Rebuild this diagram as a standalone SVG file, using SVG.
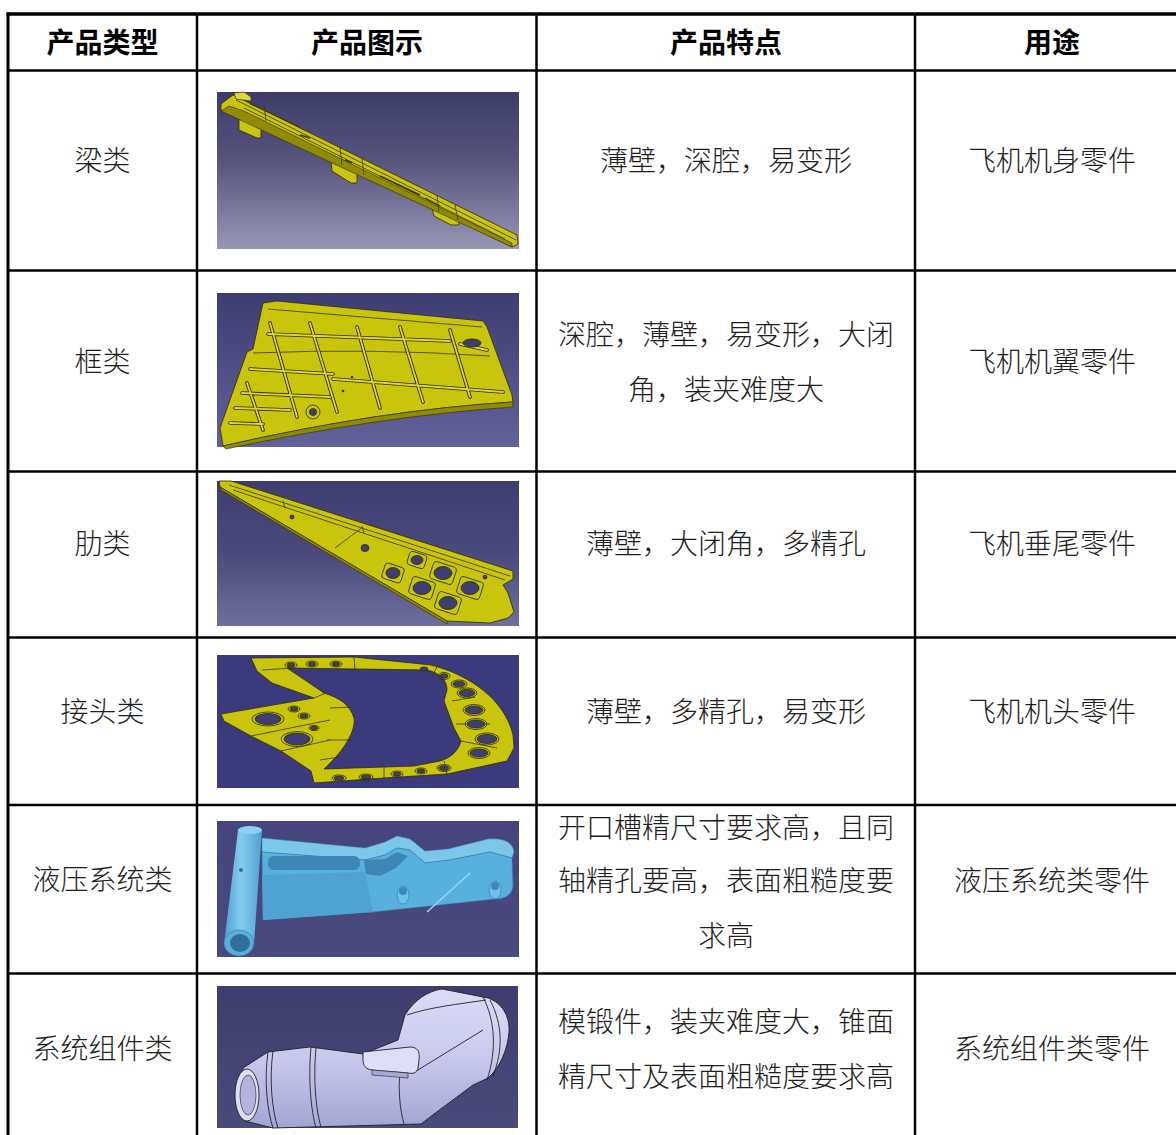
<svg xmlns="http://www.w3.org/2000/svg" width="1176" height="1135" viewBox="0 0 1176 1135">
<defs>
<linearGradient id="bg1" x1="0" y1="0" x2="0" y2="1"><stop offset="0" stop-color="#3d3b6a"/><stop offset="0.45" stop-color="#58567f"/><stop offset="1" stop-color="#9896b5"/></linearGradient>
<linearGradient id="bg2" x1="0" y1="0" x2="0" y2="1"><stop offset="0" stop-color="#3e3d72"/><stop offset="1" stop-color="#62619a"/></linearGradient>
<linearGradient id="bg3" x1="0" y1="0" x2="0" y2="1"><stop offset="0" stop-color="#3e3d70"/><stop offset="0.5" stop-color="#4a4a7c"/><stop offset="1" stop-color="#6e6e9f"/></linearGradient>
<linearGradient id="bg5" x1="0" y1="0" x2="0" y2="1"><stop offset="0" stop-color="#45447c"/><stop offset="1" stop-color="#4a4a7e"/></linearGradient>
<linearGradient id="bg6" x1="0" y1="0" x2="0" y2="1"><stop offset="0" stop-color="#3e3d6e"/><stop offset="1" stop-color="#4b4a7c"/></linearGradient>
<linearGradient id="tube" x1="0" y1="0" x2="1" y2="0"><stop offset="0" stop-color="#4a9fd0"/><stop offset="0.45" stop-color="#86cdf0"/><stop offset="1" stop-color="#4f9fcf"/></linearGradient>
<linearGradient id="lav" x1="0" y1="0" x2="0" y2="1"><stop offset="0" stop-color="#dcdcf6"/><stop offset="0.5" stop-color="#c8c8ee"/><stop offset="1" stop-color="#a4a4d4"/></linearGradient>
</defs>
<style>
.h{font-family:"Noto Sans CJK SC","Noto Sans CJK JP",sans-serif;font-size:28px;font-weight:700;fill:#000;text-anchor:middle}
.t{font-family:"Noto Sans CJK SC","Noto Sans CJK JP",sans-serif;font-size:28px;font-weight:300;fill:#1e1e1e;text-anchor:middle}
.y{fill:#c9c40c;stroke:#2f2d00;stroke-width:0.8;stroke-linejoin:round}
.yd{fill:#8f8b04;stroke:#2f2d00;stroke-width:0.6}
.yl{fill:#dcd73a;stroke:#2f2d00;stroke-width:0.6}
.ln{fill:none;stroke:#3a3800;stroke-width:0.8}
.ro{fill:none;stroke:#2f2d00;stroke-width:3.6;stroke-linecap:round}
.ri{fill:none;stroke:#dbd638;stroke-width:1.8;stroke-linecap:round}
.hr{fill:#3f3e74;stroke:#2f2d00;stroke-width:0.8}
.rg{fill:none;stroke:#2f2d00;stroke-width:0.8}
.bl{fill:#58b0de;stroke:#2f78a4;stroke-width:0.5}
.k{fill:none;stroke:#222;stroke-width:0.9}
#grid line{stroke:#000;stroke-width:2.5}
</style>
<rect width="1176" height="1135" fill="#fff"/>

<g id="header">
<text class="h" x="102.5" y="53">产品类型</text>
<text class="h" x="367" y="53">产品图示</text>
<text class="h" x="726" y="53">产品特点</text>
<text class="h" x="1052" y="53">用途</text>
</g>

<g id="row-1">
<text class="t" x="102.5" y="171">梁类</text>
<text class="t" x="726" y="171">薄壁，深腔，易变形</text>
<text class="t" x="1052" y="171">飞机机身零件</text>
<g id="img-1">
<rect x="217" y="92" width="302" height="157" fill="url(#bg1)"/>
<polygon class="y" points="221,104 233,95 517,235 518,244 512,247 459,221 459,225 451,225 434,216 432,208 357,173 357,183 351,183 332,171 331,161 261,129 261,138 257,138 239,130 239,118 221,111"/>
<polygon class="yl" points="234,93 244,92 251,97 251,101 236,99"/>
<polygon class="yd" points="229,106 244,111 512,243 512,247 221,111"/>
<path class="ln" d="M236,100 L516,240 M244,108 L505,239 M250,104 L300,127 M264,105 L266,121 M340,148 L342,165 M362,159 L364,175 M437,195 L439,212 M455,205 L458,220"/>
<path class="ln" d="M300,135 L310,138 M345,160 L352,163 M380,176 L420,195 M425,198 L440,206" style="stroke-width:1.4"/>
</g>
</g>

<g id="row-2">
<text class="t" x="102.5" y="371.5">框类</text>
<text class="t" x="726" y="344.5">深腔，薄壁，易变形，大闭</text>
<text class="t" x="726" y="399.5">角，装夹难度大</text>
<text class="t" x="1052" y="371.5">飞机机翼零件</text>
<g id="img-2">
<rect x="217" y="293" width="302" height="154" fill="url(#bg2)"/>
<path class="y" d="M263,303 L277,301 L483,321 L487,327 L512,395 L513,402 Q380,410 223,446 L220,428 L247,352 L253,349 Z"/>
<path class="yd" d="M223,446 Q380,410 513,402 L513,407 Q380,416 226,449 Z"/>
<path class="ln" d="M268,309 L482,327 M253,353 Q370,348 490,356"/>
<path class="ro" d="M268,334 L450,341 M460,344 L487,350 M250,369 L333,374 M333,379 L503,392 M242,393 L330,397 M235,408 L290,410 M230,423 L263,424 M270,323 L297,417 M310,323 L337,412 M357,327 L380,408 M400,327 L423,402 M450,330 L470,397 M247,383 L263,430"/>
<path class="ri" d="M268,334 L450,341 M460,344 L487,350 M250,369 L333,374 M333,379 L503,392 M242,393 L330,397 M235,408 L290,410 M230,423 L263,424 M270,323 L297,417 M310,323 L337,412 M357,327 L380,408 M400,327 L423,402 M450,330 L470,397 M247,383 L263,430"/>
<ellipse class="hr" cx="472" cy="343" rx="9" ry="4"/>
<circle class="rg" cx="313" cy="412" r="7"/>
<circle class="hr" cx="313" cy="412" r="3.5"/>
<circle cx="352" cy="377" r="1.3" fill="#2f2d00"/>
<circle cx="343" cy="391" r="1.3" fill="#2f2d00"/>
</g>
</g>

<g id="row-3">
<text class="t" x="102.5" y="553.5">肋类</text>
<text class="t" x="726" y="553.5">薄壁，大闭角，多精孔</text>
<text class="t" x="1052" y="553.5">飞机垂尾零件</text>
<g id="img-3">
<rect x="217" y="481" width="302" height="145" fill="url(#bg3)"/>
<polygon class="y" points="219,481 231,481 513,571 513,579 503,585 508,593 514,612 508,618 490,623 447,621 220,487"/>
<polygon class="yd" points="220,487 447,621 447,624 221,490"/>
<path class="ln" d="M229,485 L510,576 M233,490 L505,580 M335,548 L363,527 M362,526 L364,533 M283,501 L285,508"/>
<circle class="hr" cx="292" cy="517" r="2"/>
<ellipse class="hr" cx="365" cy="548" rx="4" ry="3.5"/>
<circle class="hr" cx="485" cy="577" r="2"/>
<g>
<rect class="rg" x="408" y="553" width="18" height="14" rx="3" transform="rotate(18 417 560)"/>
<ellipse class="hr" cx="417" cy="560" rx="6" ry="4.5"/>
<rect class="rg" x="383" y="565" width="20" height="16" rx="3" transform="rotate(18 393 573)"/>
<ellipse class="hr" cx="393" cy="573" rx="7" ry="5.5"/>
<rect class="rg" x="431" y="564" width="24" height="18" rx="3" transform="rotate(18 443 573)"/>
<ellipse class="hr" cx="443" cy="573" rx="9" ry="6.5"/>
<rect class="rg" x="410" y="579" width="24" height="18" rx="3" transform="rotate(18 422 588)"/>
<ellipse class="hr" cx="422" cy="588" rx="9" ry="6.5"/>
<rect class="rg" x="458" y="579" width="24" height="18" rx="3" transform="rotate(18 470 588)"/>
<ellipse class="hr" cx="470" cy="588" rx="9" ry="6.5"/>
<rect class="rg" x="436" y="594" width="24" height="18" rx="3" transform="rotate(18 448 603)"/>
<ellipse class="hr" cx="448" cy="603" rx="9" ry="6.5"/>
</g>
</g>
</g>

<g id="row-4">
<text class="t" x="102.5" y="721.5">接头类</text>
<text class="t" x="726" y="721.5">薄壁，多精孔，易变形</text>
<text class="t" x="1052" y="721.5">飞机机头零件</text>
<g id="img-4">
<rect x="217" y="655" width="302" height="133" fill="#3a3a7c"/>
<path class="y" fill-rule="evenodd" d="M251,658 L354,657 L431,665 C470,675 505,700 513,735 L514,748 L507,761 L447,774 L384,778 L314,783 L311,771 L281,751 L251,736 L224,721 L221,714 L314,698 L272,683 L257,671 Z M287,668 L427,670 C440,673 447,680 447,690 L444,701 L454,728 L461,741 C458,752 450,758 440,761 L414,766 L324,769 C345,750 356,730 354,718 C350,705 340,698 324,693 Z"/>
<path class="ln" d="M354,657 L355,670 M262,670 L292,668 M314,698 L326,693 M330,708 L352,707 M327,740 L352,740 M320,760 L340,757 M438,665 L432,676 M452,701 L475,697 M456,724 L490,724 M461,741 L497,748 M384,778 L384,767 M251,736 L330,720 M281,751 L330,740 M444,761 L447,774"/>
<g>
<ellipse class="rg" cx="291" cy="665" rx="6" ry="3"/><ellipse class="hr" cx="291" cy="665" rx="4" ry="2"/>
<ellipse class="rg" cx="312" cy="664" rx="6" ry="3"/><ellipse class="hr" cx="312" cy="664" rx="4" ry="2"/>
<ellipse class="rg" cx="336" cy="664" rx="6" ry="3"/><ellipse class="hr" cx="336" cy="664" rx="4" ry="2"/>
<ellipse class="hr" cx="424" cy="669" rx="4" ry="2"/>
<ellipse class="rg" cx="444" cy="676" rx="6" ry="3.5"/><ellipse class="hr" cx="444" cy="676" rx="4" ry="2.2"/>
<ellipse class="rg" cx="459" cy="684" rx="8" ry="4"/><ellipse class="hr" cx="459" cy="684" rx="6" ry="2.8"/>
<ellipse class="rg" cx="467" cy="693" rx="10" ry="5"/><ellipse class="hr" cx="467" cy="693" rx="8" ry="3.6"/>
<ellipse class="rg" cx="474" cy="710" rx="11" ry="5.5"/><ellipse class="hr" cx="474" cy="710" rx="9" ry="4"/>
<ellipse class="rg" cx="476" cy="724" rx="11" ry="5.5"/><ellipse class="hr" cx="476" cy="724" rx="9" ry="4"/>
<ellipse class="rg" cx="487" cy="739" rx="12" ry="6"/><ellipse class="hr" cx="487" cy="739" rx="10" ry="4.5"/>
<ellipse class="rg" cx="479" cy="753" rx="11" ry="5.5"/><ellipse class="hr" cx="479" cy="753" rx="9" ry="4"/>
<ellipse class="rg" cx="339" cy="778" rx="7" ry="3"/><ellipse class="hr" cx="339" cy="778" rx="5" ry="2"/>
<ellipse class="rg" cx="366" cy="777" rx="7" ry="3"/><ellipse class="hr" cx="366" cy="777" rx="5" ry="2"/>
<ellipse class="rg" cx="397" cy="774" rx="6" ry="3"/><ellipse class="hr" cx="397" cy="774" rx="4" ry="2"/>
<ellipse class="rg" cx="421" cy="771" rx="6" ry="3"/><ellipse class="hr" cx="421" cy="771" rx="4" ry="2"/>
<ellipse class="rg" cx="444" cy="768" rx="7" ry="3.5"/><ellipse class="hr" cx="444" cy="768" rx="5" ry="2.3"/>
<ellipse class="rg" cx="268" cy="719" rx="16" ry="7"/><ellipse class="hr" cx="268" cy="719" rx="13" ry="5.5"/>
<ellipse class="rg" cx="297" cy="739" rx="16" ry="7.5"/><ellipse class="hr" cx="297" cy="739" rx="13" ry="6"/>
<ellipse class="rg" cx="294" cy="709" rx="6" ry="3"/><ellipse class="hr" cx="294" cy="709" rx="4" ry="2"/>
<ellipse class="rg" cx="304" cy="716" rx="6" ry="3"/><ellipse class="hr" cx="304" cy="716" rx="4" ry="2"/>
<ellipse class="rg" cx="314" cy="728" rx="5" ry="2.5"/><ellipse class="hr" cx="314" cy="728" rx="3.5" ry="1.7"/>
</g>
</g>
</g>

<g id="row-5">
<text class="t" x="102.5" y="890">液压系统类</text>
<text class="t" x="726" y="837.5">开口槽精尺寸要求高，且同</text>
<text class="t" x="726" y="890.5">轴精孔要高，表面粗糙度要</text>
<text class="t" x="726" y="945.5">求高</text>
<text class="t" x="1052" y="891">液压系统类零件</text>
<g id="img-5">
<rect x="217" y="821" width="302" height="136" fill="url(#bg5)"/>
<path d="M262,838 L365,848 L385,842 L397,836 L410,839 L425,851 L448,849 L488,839 C505,838 513,843 514,852 L512,858 L490,852 L450,860 L425,863 L410,850 L397,848 L385,855 L365,860 L262,852 Z" fill="#7cc6ea" stroke="#3b88b6" stroke-width="0.5"/>
<path class="bl" d="M262,852 L365,860 L385,855 L397,848 L410,850 L425,863 L450,860 L490,852 L512,858 L513,886 C512,895 505,899 495,899 L430,906 L373,912 L263,920 Z"/>
<path d="M262,875 L365,872 L373,912 L263,920 Z" fill="#4fa2d2"/>
<rect x="268" y="856" width="92" height="14" rx="6" fill="#3e86b6"/>
<path d="M364,860 L385,859 L397,852 L408,856 L396,868 L380,876 L366,874 Z" fill="#3e86b6"/>
<path d="M427,912 L470,873" stroke="#9ad6f2" stroke-width="1.5" fill="none"/>
<ellipse cx="403" cy="895" rx="6" ry="9" fill="#6cc0e9" stroke="#2f78a4" stroke-width="0.6"/>
<ellipse cx="403" cy="891" rx="4" ry="4" fill="#3f88b8"/>
<ellipse cx="495" cy="890" rx="6" ry="9" fill="#6cc0e9" stroke="#2f78a4" stroke-width="0.6"/>
<ellipse cx="495" cy="886" rx="4" ry="4" fill="#3f88b8"/>
<path d="M238,830 L262,830 L254,944 L224,944 Z" fill="url(#tube)"/>
<ellipse cx="250" cy="830" rx="12" ry="4" fill="#8ad0f2"/>
<ellipse cx="239" cy="943" rx="15" ry="13" fill="#5aaedc" stroke="#2f78a4" stroke-width="0.6"/>
<ellipse cx="240" cy="943" rx="10" ry="9" fill="#2f6f99"/>
<circle cx="241" cy="870" r="2" fill="#2f6f99"/>
</g>
</g>

<g id="row-6">
<text class="t" x="102.5" y="1058.5">系统组件类</text>
<text class="t" x="726" y="1032">模锻件，装夹难度大，锥面</text>
<text class="t" x="726" y="1087">精尺寸及表面粗糙度要求高</text>
<text class="t" x="1052" y="1059">系统组件类零件</text>
<g id="img-6">
<rect x="217" y="986" width="301" height="142" fill="url(#bg6)"/>
<path d="M243,1068 L268,1052 L310,1047 L363,1054 L398,1040 L405,1015 C414,1000 428,991 442,989 L488,998 C502,1003 510,1016 509,1032 C508,1048 500,1068 488,1078 L473,1085 L434,1114 L421,1124 L273,1128 L245,1121 Z" fill="url(#lav)" stroke="#222" stroke-width="0.9"/>
<ellipse cx="247" cy="1095" rx="12" ry="26" fill="#dcdcf4" stroke="#222" stroke-width="0.9"/>
<ellipse cx="248" cy="1095" rx="8" ry="20" fill="#b4b4de" stroke="#222" stroke-width="0.6"/>
<path class="k" d="M268,1052 C264,1080 267,1110 273,1128 M273,1051 C269,1080 272,1110 278,1128 M311,1047 C308,1080 311,1110 316,1128 M316,1048 C313,1080 316,1110 321,1127 M400,1072 C398,1090 400,1110 404,1124 M483,997 C495,1020 497,1050 487,1080 M490,1000 C503,1025 503,1050 493,1076 M413,1073 L483,1030 M407,1015 C430,1007 460,1004 486,1000"/>
<path d="M363,1052 L410,1047 C418,1047 420,1052 419,1060 L418,1068 C417,1073 413,1074 408,1073 L372,1070 C366,1069 363,1066 363,1060 Z" fill="#dedef7" stroke="#222" stroke-width="0.9"/>
<path d="M372,1070 L408,1073 L408,1078 L372,1075 Z" fill="#a8a8d6" stroke="#222" stroke-width="0.6"/>
</g>
</g>

<g id="grid">
<line x1="6.5" y1="14" x2="1176" y2="14" style="stroke-width:3.5"/>
<line x1="8" y1="12.5" x2="8" y2="1135" style="stroke-width:3"/>
<line x1="8" y1="70.5" x2="1176" y2="70.5"/>
<line x1="8" y1="270.5" x2="1176" y2="270.5"/>
<line x1="8" y1="471.5" x2="1176" y2="471.5"/>
<line x1="8" y1="637.5" x2="1176" y2="637.5"/>
<line x1="8" y1="805" x2="1176" y2="805"/>
<line x1="8" y1="973.5" x2="1176" y2="973.5"/>
<line x1="197" y1="14" x2="197" y2="1135"/>
<line x1="536.5" y1="14" x2="536.5" y2="1135"/>
<line x1="915" y1="14" x2="915" y2="1135"/>
</g>
</svg>
